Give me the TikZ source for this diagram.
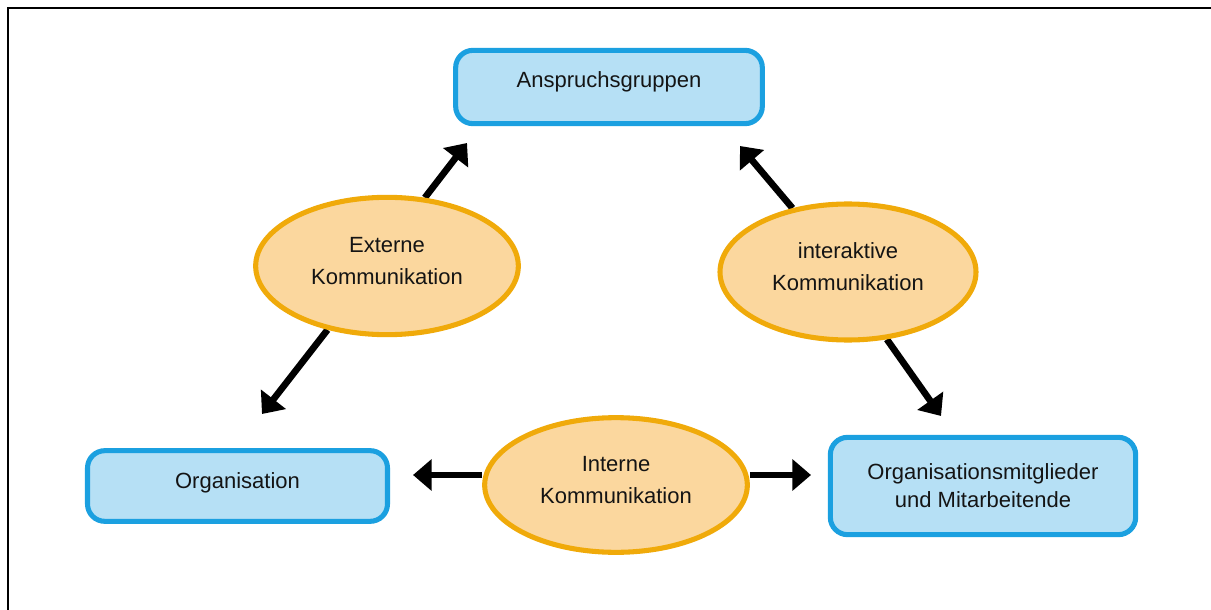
\documentclass[tikz,border=0pt]{standalone}
\usepackage{fontspec}
\setmainfont{Liberation Sans}
\usetikzlibrary{shapes.geometric,arrows.meta,backgrounds}
\definecolor{boxline}{RGB}{27,160,224}
\definecolor{boxfill}{RGB}{182,224,245}
\definecolor{ellline}{RGB}{240,170,10}
\definecolor{ellfill}{RGB}{251,215,158}
\definecolor{txt}{RGB}{20,20,20}
\tikzset{
  groupbox/.style={draw=boxline, fill=boxfill, line width=3.8pt, rounded corners=13pt,
    align=center, text=txt, font=\fontsize{16.5}{21}\selectfont, inner sep=0pt},
  commell/.style={ellipse, draw=ellline, fill=ellfill, line width=3.8pt,
    align=center, text=txt, font=\fontsize{16.5}{24}\selectfont, inner sep=0pt,
    text depth=7.5pt},
  flow/.style={line width=5pt, -{Triangle[length=14pt,width=23pt]}},
  frameline/.style={line width=2.2pt, black}
}
\begin{document}
\begin{tikzpicture}[x=0.75pt,y=-0.75pt]
\useasboundingbox (0,0) rectangle (1211,610);

% stakeholder boxes
\node[groupbox, minimum width=230pt, minimum height=55pt, text depth=11pt] (ansp) at (609,87) {Anspruchsgruppen};
\node[groupbox, minimum width=225pt, minimum height=53pt, text depth=8pt] (org) at (237.5,486) {Organisation};
\node[groupbox, minimum width=229pt, minimum height=73pt] (mitg) at (983,486) {Organisationsmitglieder\\und Mitarbeitende};

% communication ellipses
\node[commell, minimum width=197pt, minimum height=103pt] (ext) at (387,266) {Externe\\Kommunikation};
\node[commell, minimum width=192pt, minimum height=102pt] (inter) at (848,272) {interaktive\\Kommunikation};
\node[commell, minimum width=197pt, minimum height=101pt] (int) at (616,485) {Interne\\Kommunikation};

% arrow tips
\coordinate (tExtUp) at (467,143);
\coordinate (tExtDown) at (262,414);
\coordinate (tInterUp) at (740,146);
\coordinate (tInterDown) at (941,416);
\coordinate (tIntLeft) at (413,475);
\coordinate (tIntRight) at (811,475);

% open frame along the top and left edges
\coordinate (fbl) at (8,612);
\coordinate (ftl) at (8,8);
\coordinate (ftr) at (1213,8);
\draw[frameline] (fbl) -- (ftl) -- (ftr);

\begin{scope}[on background layer]
\fill[white] (0,0) rectangle (1211,610);
\draw[flow] (ext.61) -- (tExtUp);
\draw[flow] (ext.227) -- (tExtDown);
\draw[flow] (inter.131) -- (tInterUp);
\draw[flow] (inter.300) -- (tInterDown);
\draw[flow] (int.west |- tIntLeft) -- (tIntLeft);
\draw[flow] (int.east |- tIntRight) -- (tIntRight);
\end{scope}
\end{tikzpicture}
\end{document}
